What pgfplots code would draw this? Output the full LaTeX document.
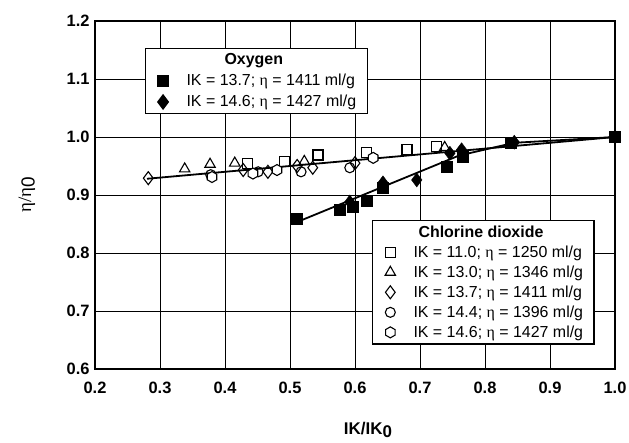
\documentclass[border=0pt]{standalone}
\usepackage{fontspec}
\setmainfont{Liberation Sans}
\newfontfamily\serif{Liberation Serif}
\usepackage{pgfplots}
\pgfplotsset{compat=1.18}

\pgfdeclareplotmark{hexagon}{%
  \pgfpathmoveto{\pgfqpointpolar{90}{\pgfplotmarksize}}%
  \pgfpathlineto{\pgfqpointpolar{150}{\pgfplotmarksize}}%
  \pgfpathlineto{\pgfqpointpolar{210}{\pgfplotmarksize}}%
  \pgfpathlineto{\pgfqpointpolar{270}{\pgfplotmarksize}}%
  \pgfpathlineto{\pgfqpointpolar{330}{\pgfplotmarksize}}%
  \pgfpathlineto{\pgfqpointpolar{30}{\pgfplotmarksize}}%
  \pgfpathclose
  \pgfusepathqfillstroke}

\pgfplotsset{
  common/.style={
    width=520bp, height=348bp, scale only axis,
    xmin=0.2, xmax=1.0, ymin=0.6, ymax=1.2,
  },
  open/.style={only marks, mark options={solid, fill=white, draw=black, line width=1.1bp}},
  lgd/.style={
    legend cell align=left,
    legend style={draw=black, line width=1.3bp, fill=white, anchor=north west,
      font=\fontsize{16}{16}\selectfont, inner xsep=9bp, inner ysep=3bp,
      /tikz/every odd column/.append style={column sep=16bp}},
  },
}

\begin{document}
\begin{tikzpicture}
\begin{axis}[common, name=main,
  xtick={0.2,0.3,0.4,0.5,0.6,0.7,0.8,0.9,1.0},
  ytick={0.6,0.7,0.8,0.9,1.0,1.1,1.2},
  grid=major, major grid style={black, line width=0.8bp},
  axis line style={line width=1.1bp},
  major tick length=0pt,
  tick label style={font=\bfseries\fontsize{16.5}{16.5}\selectfont},
  xticklabel style={yshift=-10bp},
  yticklabel style={xshift=-2bp},
  /pgf/number format/fixed, /pgf/number format/fixed zerofill,
  /pgf/number format/precision=1, /pgf/number format/assume math mode=true,
  xlabel={\bfseries IK/IK\raisebox{-0.3ex}{0}},
  xlabel style={at={(axis description cs:0.525,0)}, anchor=center, yshift=-61bp, font=\fontsize{17}{17}\selectfont},
  ylabel={{\serif η/η}\raisebox{-0.35ex}{0}},
  ylabel style={at={(axis description cs:-0.131,0.5)}, anchor=center, font=\fontsize{19}{19}\selectfont},
  lgd,
  legend style={at={(0.096,0.922)}, row sep=4bp},
]
% fitted lines
\addplot[black, line width=1.8bp, forget plot] coordinates {(0.28,0.928)(1.0,1.0)};
\addplot[black, line width=1.8bp, forget plot] coordinates {(0.51,0.853)(0.76,0.968)(0.845,0.99)(1.0,1.0)};
% chlorine dioxide series
\addplot[open, mark=square, mark size=5bp, forget plot] coordinates {
(0.434,0.955)(0.491,0.957)(0.543,0.969)(0.618,0.974)(0.680,0.978)(0.726,0.983)(1.0,1.0)};
\addplot[open, mark=triangle, mark size=6bp, forget plot] coordinates {
(0.338,0.945)(0.377,0.953)(0.415,0.955)(0.522,0.958)(0.738,0.982)(1.0,1.0)};
\addplot[open, mark=diamond, mark size=6.5bp, forget plot] coordinates {
(0.282,0.929)(0.428,0.943)(0.466,0.940)(0.511,0.950)(0.535,0.947)(0.600,0.955)(1.0,1.0)};
\addplot[open, mark=o, mark size=5bp, forget plot] coordinates {
(0.378,0.935)(0.451,0.940)(0.517,0.940)(0.592,0.947)(1.0,1.0)};
\addplot[open, mark=hexagon, mark size=5.5bp, forget plot] coordinates {
(0.380,0.931)(0.443,0.937)(0.480,0.943)(0.628,0.964)(1.0,1.0)};
% oxygen
\addlegendimage{empty legend}
\addlegendentry{\hspace*{38bp}\bfseries Oxygen}
\addplot[only marks, mark=square*, mark size=5.5bp, mark options={fill=black}] coordinates {
(0.511,0.860)(0.577,0.874)(0.596,0.880)(0.618,0.891)(0.642,0.912)(0.741,0.948)(0.766,0.966)(0.840,0.991)(1.0,1.0)};
\addlegendentry{IK = 13.7; {\serif η} = 1411 ml/g}
\addplot[only marks, mark=diamond*, mark size=7bp, mark options={fill=black}] coordinates {
(0.592,0.888)(0.643,0.921)(0.695,0.926)(0.746,0.972)(0.764,0.978)(0.845,0.991)(1.0,1.0)};
\addlegendentry{IK = 14.6; {\serif η} = 1427 ml/g}
\end{axis}
\begin{axis}[common, hide axis, lgd,
  legend style={at={(0.533,0.428)}, row sep=3bp}]
\addlegendimage{empty legend}
\addlegendentry{\hspace*{5bp}\bfseries Chlorine dioxide}
\addlegendimage{open, mark=square, mark size=5bp}
\addlegendentry{IK = 11.0; {\serif η} = 1250 ml/g}
\addlegendimage{open, mark=triangle, mark size=6bp}
\addlegendentry{IK = 13.0; {\serif η} = 1346 ml/g}
\addlegendimage{open, mark=diamond, mark size=6.5bp}
\addlegendentry{IK = 13.7; {\serif η} = 1411 ml/g}
\addlegendimage{open, mark=o, mark size=5bp}
\addlegendentry{IK = 14.4; {\serif η} = 1396 ml/g}
\addlegendimage{open, mark=hexagon, mark size=5.5bp}
\addlegendentry{IK = 14.6; {\serif η} = 1427 ml/g}
\end{axis}
\pgfresetboundingbox
\path ([shift={(-95bp,-74bp)}]main.south west) rectangle ([shift={(14bp,21bp)}]main.north east);
\end{tikzpicture}
\end{document}
